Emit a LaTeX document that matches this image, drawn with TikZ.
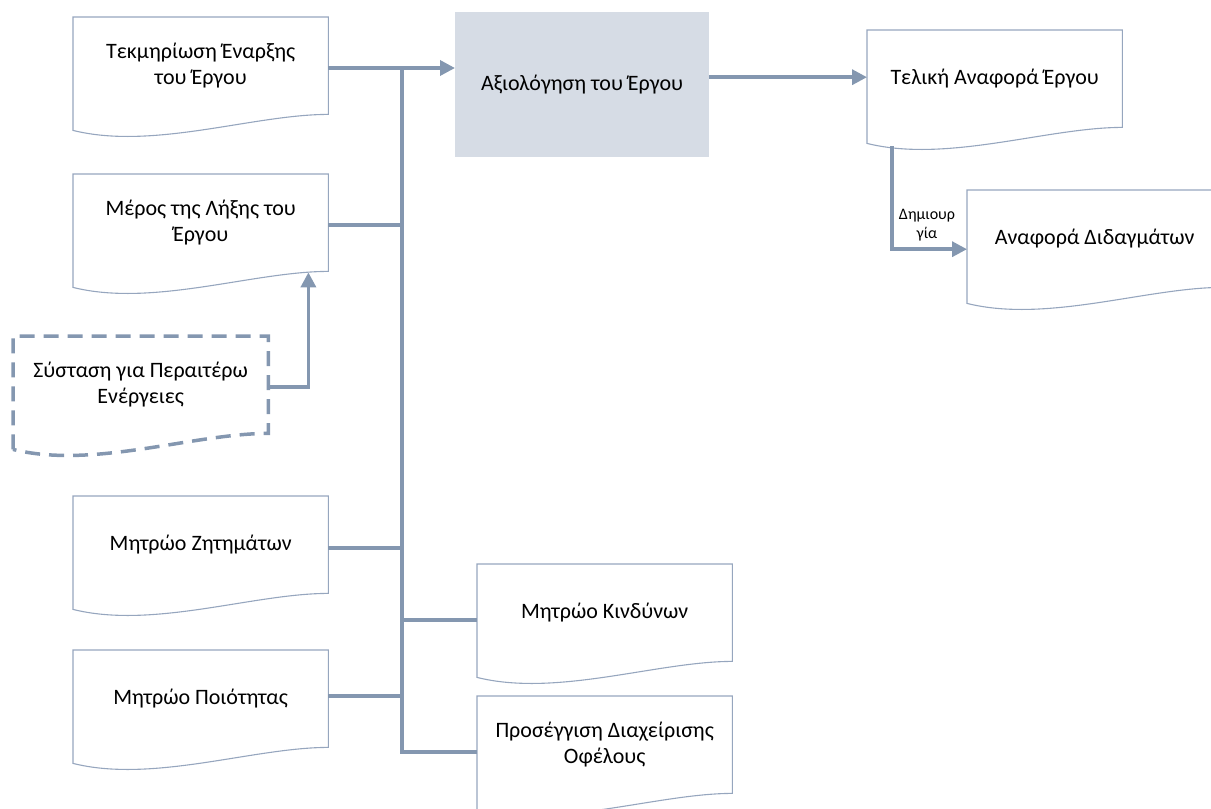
\documentclass[tikz,border=0pt]{standalone}
\usepackage{fontspec}
\setmainfont{Carlito}
\usetikzlibrary{calc,arrows.meta}

\definecolor{linec}{HTML}{8497B0}
\definecolor{docc}{HTML}{96A6BE}
\definecolor{procfill}{HTML}{D6DCE5}

\tikzset{
  docbox/.style={anchor=north west, minimum width=255pt, minimum height=97pt,
    inner sep=0pt, align=center, font=\fontsize{22}{26}\selectfont},
  procbox/.style={anchor=north west, minimum width=254pt, minimum height=145pt,
    inner sep=0pt, fill=procfill, align=center, font=\fontsize{22}{26}\selectfont},
  lbl/.style={align=center, inner sep=0pt, font=\fontsize{16}{19}\selectfont},
  docline/.style={draw=docc, line width=1.1pt, line join=miter},
  dashdoc/.style={draw=linec, line width=3.5pt, dash pattern=on 15pt off 9pt},
  conn/.style={draw=linec, line width=3.5pt, line join=miter},
  arr/.style={conn, -{Triangle[length=15pt,width=15pt]}},
}

% document outline: flat top, wavy bottom edge
\newcommand{\docoutline}[2]{%
  \draw[#2] ($(#1.south west)+(0,16)$) -- (#1.north west) -- (#1.north east)
    -- (#1.south east) .. controls +(-75,0) and +(80,20) .. ($(#1.south west)+(0,16)$)
    -- cycle;
}

\begin{document}
\begin{tikzpicture}[x=1pt,y=-1pt]
  \useasboundingbox (0,0) rectangle (1211,809);

  % process box
  \node[procbox] (P) at (455,12) {Αξιολόγηση του Έργου};

  % documents
  \node[docbox] (D1) at (73,17)  {Τεκμηρίωση Έναρξης\\του Έργου};
  \node[docbox] (D2) at (73,174) {Μέρος της Λήξης του\\Έργου};
  \node[docbox] (D3) at (13,336) {Σύσταση για Περαιτέρω\\Ενέργειες};
  \node[docbox] (D4) at (73,496) {Μητρώο Ζητημάτων};
  \node[docbox] (D5) at (73,650) {Μητρώο Ποιότητας};
  \node[docbox] (D6) at (477,564) {Μητρώο Κινδύνων};
  \node[docbox] (D7) at (477,696) {Προσέγγιση Διαχείρισης\\Οφέλους};
  \node[docbox] (D8) at (867,30) {Τελική Αναφορά Έργου};
  \node[docbox] (D9) at (967,190) {Αναφορά Διδαγμάτων};

  \foreach \d in {D1,D2,D4,D5,D6,D7,D8,D9} {\docoutline{\d}{docline}}
  \docoutline{D3}{dashdoc}

  % collecting bus
  \coordinate (bt) at (402,68);
  \coordinate (bb) at (402,752);

  \draw[arr] (D1.east |- bt) -- (P.west |- bt);
  \draw[conn] (bt) -- (bb) -- (D7.west |- bb);
  \draw[conn] ([yshift=-2.5pt]D2.east) -- ([yshift=-2.5pt]D2.east -| bt);
  \draw[conn] ([yshift=-3.5pt]D4.east) -- ([yshift=-3.5pt]D4.east -| bt);
  \draw[conn] ([yshift=2.5pt]D5.east) -- ([yshift=2.5pt]D5.east -| bt);
  \draw[conn] ([yshift=-7.5pt]D6.west -| bt) -- ([yshift=-7.5pt]D6.west);

  % recommendation feeds the closure part
  \draw[arr] ([yshift=-2.5pt]D3.east) -| ($(D2.south east)+(-20,1)$);

  % evaluation to final report
  \draw[arr] ([yshift=7.5pt]P.east) -- ([yshift=7.5pt]P.east -| D8.west);

  % final report creates lessons report
  \draw[arr] ($(D8.south west)+(25,19)$) |- ([yshift=-10.5pt]D9.west);
  \node[lbl] (L) at (927,225) {Δημιουρ\\γία};
\end{tikzpicture}
\end{document}
